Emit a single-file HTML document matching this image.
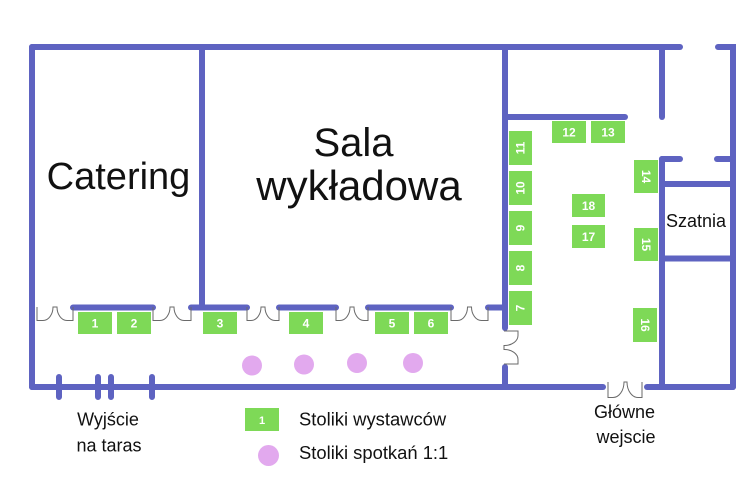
<!DOCTYPE html>
<html><head><meta charset="utf-8"><style>
html,body{margin:0;padding:0;background:#fff;}
svg{display:block;}
text{font-family:"Liberation Sans",sans-serif;}
</style></head><body>
<svg width="750" height="500" viewBox="0 0 750 500" xmlns="http://www.w3.org/2000/svg">
<rect width="750" height="500" fill="#fff"/>
<g stroke="#5e63c1" stroke-width="6" stroke-linecap="round" fill="none">
  <path d="M32 47 H680"/>
  <path d="M718 47 H733 V387"/>
  <path d="M32 47 V387"/>
  <path d="M32 387 H603"/>
  <path d="M647 387 H733"/>
  <path d="M59 377 V397 M98 377 V397 M111 377 V397 M152 377 V397"/>
  <path d="M202 47 V307"/>
  <path d="M505 47 V328"/>
  <path d="M505 367 V387"/>
  <path d="M73 307.5 H153 M191 307.5 H247 M279 307.5 H336 M368 307.5 H451 M488 307.5 H505"/>
  <path d="M505 117 H625"/>
  <path d="M662 47 V117"/>
  <path d="M662 159 H680"/>
  <path d="M717 159 H733"/>
  <path d="M662 159 V387"/>
  <path d="M662 184 H733"/>
  <path d="M662 258.5 H733"/>
</g>
<!-- doors -->
<g stroke="#6a6a6a" stroke-width="1" fill="none">
  <path d="M37 307 V320.5 H43 A10 13.5 0 0 0 53 307 H57 A10 13.5 0 0 0 67 320.5 H73 V307"/>
  <path d="M153 307 V320.5 H160 A10 13.5 0 0 0 170 307 H174 A10 13.5 0 0 0 184 320.5 H191 V307"/>
  <path d="M247 307 V320.5 H251 A10 13.5 0 0 0 261 307 H265 A10 13.5 0 0 0 275 320.5 H279 V307"/>
  <path d="M336 307 V320.5 H340 A10 13.5 0 0 0 350 307 H354 A10 13.5 0 0 0 364 320.5 H368 V307"/>
  <path d="M451 307 V320.5 H457.5 A10 13.5 0 0 0 467.5 307 H471.5 A10 13.5 0 0 0 481.5 320.5 H488 V307"/>
  <path d="M608 382 V397.5 H613 A11 15.5 0 0 0 624 382 H627 A11 15.5 0 0 0 638 397.5 H642 V382"/>
  <path d="M504 331 H518 V335.5 A13.5 10 0 0 1 504 345.5 V349.5 A13.5 10 0 0 1 518 359.5 V364 H504"/>
</g>
<!-- tables -->
<g fill="#7ed957">
  <rect x="78" y="312" width="34" height="22"/>
  <rect x="117" y="312" width="34" height="22"/>
  <rect x="203" y="312" width="34" height="22"/>
  <rect x="289" y="312" width="34" height="22"/>
  <rect x="375" y="312" width="34" height="22"/>
  <rect x="414" y="312" width="34" height="22"/>
  <rect x="552" y="121" width="34" height="22"/>
  <rect x="591" y="121" width="34" height="22"/>
  <rect x="572" y="194" width="33" height="23"/>
  <rect x="572" y="225" width="33" height="23"/>
  <rect x="509" y="291" width="23" height="34"/>
  <rect x="509" y="251" width="23" height="34"/>
  <rect x="509" y="211" width="23" height="34"/>
  <rect x="509" y="171" width="23" height="34"/>
  <rect x="509" y="131" width="23" height="34"/>
  <rect x="634" y="160" width="24" height="33"/>
  <rect x="634" y="228" width="24" height="33"/>
  <rect x="633" y="308" width="24" height="34"/>
  <rect x="245" y="408" width="34" height="23"/>
</g>
<g fill="#fff" font-size="12" font-weight="bold" text-anchor="middle">
  <text x="95" y="327.5">1</text>
  <text x="134" y="327.5">2</text>
  <text x="220" y="327.5">3</text>
  <text x="306" y="327.5">4</text>
  <text x="392" y="327.5">5</text>
  <text x="431" y="327.5">6</text>
  <text x="569" y="136.5">12</text>
  <text x="608" y="136.5">13</text>
  <text x="588.5" y="210">18</text>
  <text x="588.5" y="241">17</text>
  <text x="262" y="424" font-size="11">1</text>
  <text transform="translate(520.5 308) rotate(-90)" y="4">7</text>
  <text transform="translate(520.5 268) rotate(-90)" y="4">8</text>
  <text transform="translate(520.5 228) rotate(-90)" y="4">9</text>
  <text transform="translate(520.5 188) rotate(-90)" y="4">10</text>
  <text transform="translate(520.5 148) rotate(-90)" y="4">11</text>
  <text transform="translate(646 176.5) rotate(90)" y="4">14</text>
  <text transform="translate(646 244.5) rotate(90)" y="4">15</text>
  <text transform="translate(645 325) rotate(90)" y="4">16</text>
</g>
<g fill="#e2a9ee">
  <circle cx="252" cy="365.5" r="10"/>
  <circle cx="304" cy="364.5" r="10"/>
  <circle cx="357" cy="363" r="10"/>
  <circle cx="413" cy="363" r="10"/>
  <circle cx="268.5" cy="455.5" r="10.5"/>
</g>
<g fill="#111">
  <text x="118.5" y="189" font-size="38" text-anchor="middle">Catering</text>
  <text x="353.5" y="156" font-size="40" text-anchor="middle">Sala</text>
  <text x="359" y="200" font-size="42" text-anchor="middle">wykładowa</text>
  <text x="696" y="227" font-size="18" text-anchor="middle">Szatnia</text>
  <text x="624.5" y="418" font-size="18" text-anchor="middle">Główne</text>
  <text x="626" y="443" font-size="18" text-anchor="middle">wejscie</text>
  <text x="108" y="425.5" font-size="18" text-anchor="middle">Wyjście</text>
  <text x="109" y="451.5" font-size="18" text-anchor="middle">na taras</text>
  <text x="299" y="425.5" font-size="18.4">Stoliki wystawców</text>
  <text x="299" y="459" font-size="18.4">Stoliki spotkań 1:1</text>
</g>
</svg>
</body></html>
